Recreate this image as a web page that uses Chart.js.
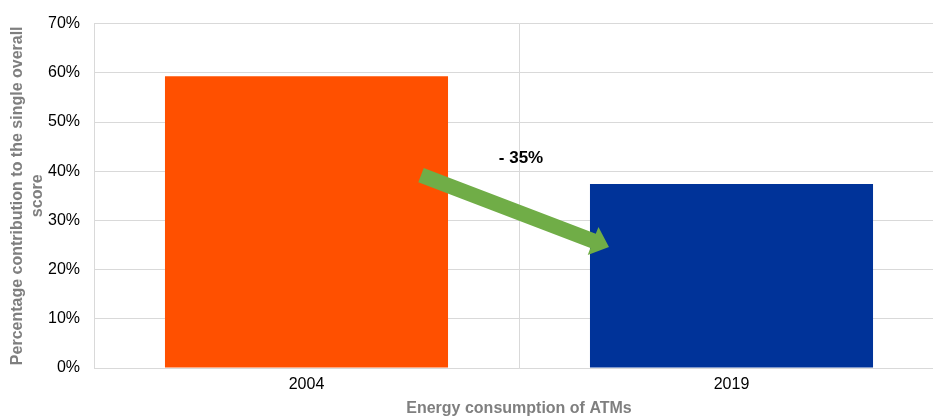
<!DOCTYPE html>
<html>
<head>
<meta charset="utf-8">
<script src="https://cdn.jsdelivr.net/npm/chart.js@4"></script>
<style>
  html, body { margin: 0; padding: 0; background: #fff; overflow: hidden; }
  #wrap { width: 944px; height: 416px; }
</style>
</head>
<body>
<div id="wrap"><canvas id="bar-chart"></canvas></div>
<script>
var years = ["2004", "2019"];
var shares = [59.3, 37.4];
var barColors = ["#FF5000", "#003399"];
var yTicks = [0, 10, 20, 30, 40, 50, 60, 70];
var changeLabel = "- 35%";

// green arrow + "- 35%" label, anchored on the scales
var arrowPlugin = {
  id: 'arrow',
  afterDatasetsDraw: function (chart) {
    var x = chart.scales.x, y = chart.scales.y, ctx = chart.ctx;
    var meta = chart.getDatasetMeta(0);
    var b0 = meta.data[0], b1 = meta.data[1];
    var x0 = b0.x + b0.width / 2 - 27, y0 = y.getPixelForValue(39.2);
    var x1 = b1.x - b1.width / 2 + 19, y1 = y.getPixelForValue(24.6);
    var ang = Math.atan2(y1 - y0, x1 - x0);
    var len = Math.hypot(x1 - x0, y1 - y0);
    var sw = 7.6, hw = 15, hl = 17;
    ctx.save();
    ctx.translate(x0, y0);
    ctx.rotate(ang);
    ctx.fillStyle = "#70AD47";
    ctx.beginPath();
    ctx.moveTo(0, -sw);
    ctx.lineTo(len - hl, -sw);
    ctx.lineTo(len - hl, -hw);
    ctx.lineTo(len, 0);
    ctx.lineTo(len - hl, hw);
    ctx.lineTo(len - hl, sw);
    ctx.lineTo(0, sw);
    ctx.closePath();
    ctx.fill();
    ctx.restore();

    ctx.save();
    ctx.font = "bold 17px 'Liberation Sans', Arial, sans-serif";
    ctx.fillStyle = "#000";
    ctx.textAlign = "center";
    ctx.textBaseline = "middle";
    ctx.fillText(changeLabel, (x.left + x.right) / 2 + 2, y.getPixelForValue(42.6));
    ctx.restore();
  }
};

new Chart(document.getElementById("bar-chart"), {
  type: 'bar',
  data: {
    labels: years,
    datasets: [{
      data: shares,
      backgroundColor: barColors,
      categoryPercentage: 0.666,
      barPercentage: 1.0
    }]
  },
  plugins: [arrowPlugin],
  options: {
    responsive: true,
    maintainAspectRatio: false,
    animation: false,
    layout: { padding: { top: 17, left: 8, right: 0, bottom: -2 } },
    plugins: {
      legend: { display: false },
      tooltip: { enabled: false }
    },
    scales: {
      x: {
        afterFit: function (axis) { axis.height = 50; },
        grid: { color: "#d9d9d9", lineWidth: 1, offset: true, drawTicks: false },
        border: { color: "#d9d9d9" },
        ticks: { color: "#000", font: { family: "'Liberation Sans', Arial", size: 16 }, padding: 7 },
        title: {
          display: true,
          text: "Energy consumption of ATMs",
          color: "#7f7f7f",
          font: { family: "'Liberation Sans', Arial", size: 16, weight: 'bold' },
          padding: { top: 3, bottom: 0 }
        }
      },
      y: {
        min: 0,
        max: 70,
        afterFit: function (axis) { axis.width = 86; },
        afterBuildTicks: function (axis) {
          axis.ticks = yTicks.map(function (v) { return { value: v }; });
        },
        grid: { color: "#d9d9d9", lineWidth: 1, drawTicks: false },
        border: { color: "#d9d9d9" },
        ticks: {
          color: "#000",
          font: { family: "'Liberation Sans', Arial", size: 16 },
          padding: 14,
          callback: function (v) { return v + "%"; }
        },
        title: {
          display: true,
          text: ["Percentage contribution to the single overall", "score"],
          color: "#7f7f7f",
          font: { family: "'Liberation Sans', Arial", size: 16, weight: 'bold', lineHeight: 1.25 },
          padding: { top: 0, bottom: 0 }
        }
      }
    }
  }
});
</script>
</body>
</html>
